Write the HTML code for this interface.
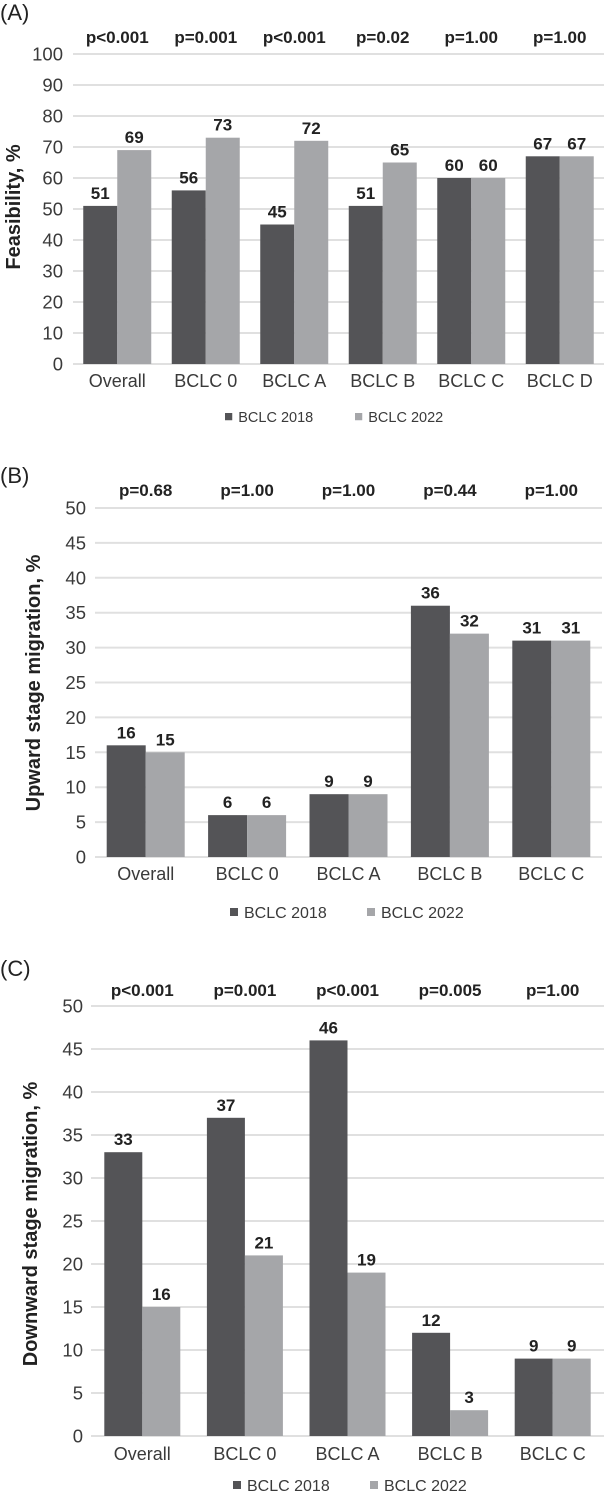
<!DOCTYPE html>
<html><head><meta charset="utf-8"><style>
html,body{margin:0;padding:0;background:#fff;}
body{width:605px;height:1497px;position:relative;overflow:hidden;font-family:"Liberation Sans",Arial,sans-serif;}
svg{position:absolute;left:0;top:0;}
</style></head><body>
<svg id="chart" width="605" height="1497" viewBox="0 0 605 1497" xmlns="http://www.w3.org/2000/svg"></svg>
<script>
// Panel A data
const catsA = ["Overall","BCLC 0","BCLC A","BCLC B","BCLC C","BCLC D"];
const a2018 = [51,56,45,51,60,67];
const a2022 = [69,73,72,65,60,67];
const pA = ["p<0.001","p=0.001","p<0.001","p=0.02","p=1.00","p=1.00"];
const ticksA = [0,10,20,30,40,50,60,70,80,90,100];
// Panel B data
const catsB = ["Overall","BCLC 0","BCLC A","BCLC B","BCLC C"];
const b2018 = [16,6,9,36,31];
const b2022 = [15,6,9,32,31];
const pB = ["p=0.68","p=1.00","p=1.00","p=0.44","p=1.00"];
const ticksB = [0,5,10,15,20,25,30,35,40,45,50];
// Panel C data
const catsC = ["Overall","BCLC 0","BCLC A","BCLC B","BCLC C"];
const c2018 = [33,37,46,12,9];
const c2022 = [15,21,19,3,9];
const labC2022 = ["16","21","19","3","9"];
const pC = ["p<0.001","p=0.001","p<0.001","p=0.005","p=1.00"];
const ticksC = [0,5,10,15,20,25,30,35,40,45,50];

const NS="http://www.w3.org/2000/svg";
const svg=document.getElementById('chart');
function mk(tag,attrs,parent){const e=document.createElementNS(NS,tag);for(const k in attrs)e.setAttribute(k,attrs[k]);(parent||svg).appendChild(e);return e;}
function txt(s,attrs,parent){const e=mk('text',attrs,parent);e.textContent=s;return e;}

function panel(cfg){
  const g=mk('g',{});
  
  
  const yMax=cfg.ticks[cfg.ticks.length-1];
  const y=v=>cfg.y0-(v/yMax)*(cfg.y0-cfg.yTop);
  const band=(cfg.x1-cfg.x0)/cfg.cats.length;
  const cx=i=>cfg.x0+band*(i+0.5);
  const pl=txt(cfg.letter,{x:0,y:cfg.letterY,'font-size':22,fill:'#222'},g);
  
  
  cfg.ticks.forEach(t=>{
    const l=mk('line',{x1:cfg.x0,x2:cfg.x1,y1:y(t),y2:y(t),stroke:'#e0e0e0','stroke-width':2},g);
    
    
    const tl=txt(String(t),{x:cfg.tickX,y:y(t)+6.5,'font-size':18.5,fill:'#3a3a3a','text-anchor':'end'},g);
    
    
  });
  const at=txt(cfg.title,{x:0,y:0,'font-size':20,'font-weight':'bold',fill:'#222','text-anchor':'middle',transform:`translate(${cfg.titleX},${cfg.titleY}) rotate(-90)`},g);
  
  
  cfg.cats.forEach((c,i)=>{
    const c0=cx(i), bw=cfg.bw;
    const v1=cfg.s1[i], v2=cfg.s2[i];
    const r1=mk('rect',{x:c0-bw,y:y(v1),width:bw,height:cfg.y0-y(v1),fill:'#545457'},g);
    
    
    const r2=mk('rect',{x:c0,y:y(v2),width:bw,height:cfg.y0-y(v2),fill:'#a5a6a9'},g);
    
    
    const l1=txt(String(v1),{x:c0-bw/2,y:y(v1)-7,'font-size':17,'font-weight':'bold',fill:'#222','text-anchor':'middle'},g);
    
    
    const l2=txt(cfg.l2?cfg.l2[i]:String(v2),{x:c0+bw/2,y:y(v2)-7,'font-size':17,'font-weight':'bold',fill:'#222','text-anchor':'middle'},g);
    
    
    const xl=txt(c,{x:c0,y:cfg.xLabY,'font-size':18,fill:'#3a3a3a','text-anchor':'middle'},g);
    
    
    const pv=txt(cfg.p[i],{x:c0,y:cfg.pY,'font-size':17,'font-weight':'bold',fill:'#222','text-anchor':'middle'},g);
    
    
  });
  const lg=mk('g',{},g);
  
  
  [[cfg.leg[0],'#545457','BCLC 2018'],[cfg.leg[1],'#a5a6a9','BCLC 2022']].forEach(([lx,col,s])=>{
    const sq=mk('rect',{x:lx,y:cfg.legY-4,width:cfg.legF*0.5,height:cfg.legF*0.5,fill:col},lg);
    
    
    const t=txt(s,{x:lx+cfg.legF*0.5+6,y:cfg.legY+cfg.legF*0.36,'font-size':cfg.legF,fill:'#3a3a3a'},lg);
    
    
  });
}

panel({name:'panel-a-feasibility',letter:'(A)',letterY:20,cats:catsA,s1:a2018,s2:a2022,p:pA,ticks:ticksA,
  x0:73,x1:604,y0:364,yTop:54,bw:34,tickX:63,title:'Feasibility, %',titleX:20,titleY:207,
  xLabY:387,pY:43,leg:[225,355],legY:417,legF:14.5});
panel({name:'panel-b-upward-migration',letter:'(B)',letterY:483,cats:catsB,s1:b2018,s2:b2022,p:pB,ticks:ticksB,
  x0:95,x1:602,y0:857,yTop:508,bw:39,tickX:86,title:'Upward stage migration, %',titleX:40,titleY:683,
  xLabY:880,pY:496,leg:[230,367],legY:912,legF:16});
panel({name:'panel-c-downward-migration',letter:'(C)',letterY:976,cats:catsC,s1:c2018,s2:c2022,l2:labC2022,p:pC,ticks:ticksC,
  x0:91,x1:604,y0:1436,yTop:1006,bw:38,tickX:83,title:'Downward stage migration, %',titleX:37,titleY:1224,
  xLabY:1460,pY:996,leg:[233,370],legY:1485,legF:16});
</script>
</body></html>
